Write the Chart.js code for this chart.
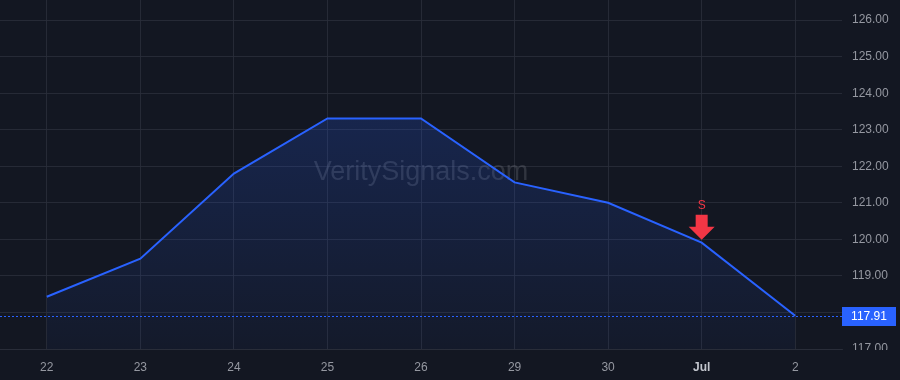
<!DOCTYPE html>
<html><head><meta charset="utf-8">
<script src="https://cdn.jsdelivr.net/npm/chart.js@4/dist/chart.umd.min.js"></script>
<style>html,body{margin:0;padding:0;background:#131722;}#wrap{width:900px;height:380px;}</style>
</head><body><div id="wrap"><canvas id="c" width="900" height="380"></canvas></div>
<script>
const categories = ['22','23','24','25','26','29','30','Jul','2'];
const closes = [118.43, 119.47, 121.80, 123.31, 123.31, 121.56, 121.00, 119.91, 117.91];
const yTicks = [117,118,119,120,121,122,123,124,125,126];
const signals = [{index:7, label:'S'}];
const watermark = 'VeritySignals.com';

const BG = '#131722';
const GRID = 'rgba(42,46,57,0.85)';
const BLUE = '#2962ff';
const RED = '#f23645';

const overlay = {
  id:'overlay',
  beforeDatasetsDraw(chart){
    const {ctx, chartArea:a} = chart;
    ctx.save();
    ctx.font = '27px "Liberation Sans", Arial, sans-serif';
    ctx.fillStyle = 'rgba(120,123,134,0.30)';
    ctx.textAlign = 'center'; ctx.textBaseline = 'middle';
    ctx.fillText(watermark, (a.left + a.right)/2, 173);
    ctx.restore();
  },
  afterDatasetsDraw(chart){
    const {ctx, chartArea:a, scales:{x,y}} = chart;
    const last = closes[closes.length-1];
    const py = Math.round(y.getPixelForValue(last)) + 0.5;
    ctx.save();
    ctx.strokeStyle = BLUE; ctx.lineWidth = 1; ctx.setLineDash([2,2]);
    ctx.beginPath(); ctx.moveTo(0, py); ctx.lineTo(a.right, py); ctx.stroke();
    ctx.setLineDash([]);
    signals.forEach(s => {
      const px = x.getPixelForValue(s.index);
      const vy = y.getPixelForValue(closes[s.index]);
      const tip = vy - 3;
      ctx.fillStyle = RED;
      ctx.beginPath();
      ctx.moveTo(px - 6, tip - 25);
      ctx.lineTo(px + 6, tip - 25);
      ctx.lineTo(px + 6, tip - 13);
      ctx.lineTo(px + 13, tip - 13);
      ctx.lineTo(px, tip);
      ctx.lineTo(px - 13, tip - 13);
      ctx.lineTo(px - 6, tip - 13);
      ctx.closePath(); ctx.fill();
      ctx.font = '12px "Liberation Sans", Arial, sans-serif';
      ctx.textAlign = 'center'; ctx.textBaseline = 'middle';
      ctx.fillText(s.label, px, tip - 34);
    });
    ctx.restore();
  },
  afterDraw(chart){
    const {ctx, chartArea:a, scales:{y}} = chart;
    ctx.save();
    ctx.fillStyle = BG;
    ctx.fillRect(a.right, a.bottom + 1, chart.width - a.right, chart.height - a.bottom);
    const last = closes[closes.length-1];
    const py = y.getPixelForValue(last);
    ctx.fillStyle = BLUE;
    ctx.fillRect(a.right, Math.round(py) - 9, 54, 19);
    ctx.fillStyle = '#ffffff';
    ctx.font = '12px "Liberation Sans", Arial, sans-serif';
    ctx.textAlign = 'center'; ctx.textBaseline = 'middle';
    ctx.fillText(last.toFixed(2), a.right + 27, Math.round(py) + 0.5);
    ctx.restore();
  }
};

const bgPlugin = {
  id:'bg',
  beforeDraw(chart){
    const {ctx} = chart;
    ctx.save(); ctx.fillStyle = BG; ctx.fillRect(0,0,chart.width,chart.height); ctx.restore();
  }
};

new Chart(document.getElementById('c'), {
  type:'line',
  data:{
    labels: categories,
    datasets:[{
      data: closes,
      borderColor: BLUE,
      borderWidth: 2,
      pointRadius: 0,
      tension: 0,
      fill: 'start',
      backgroundColor(ctx){
        const ch = ctx.chart; const a = ch.chartArea;
        if(!a) return 'rgba(41,98,255,0.15)';
        const g = ch.ctx.createLinearGradient(0, a.top + 110, 0, a.bottom);
        g.addColorStop(0, 'rgba(41,98,255,0.20)');
        g.addColorStop(1, 'rgba(41,98,255,0.04)');
        return g;
      }
    }]
  },
  options:{
    responsive:false,
    animation:false,
    layout:{padding:0},
    plugins:{legend:{display:false}, tooltip:{enabled:false}},
    scales:{
      x:{
        type:'category',
        offset:true,
        grid:{color:GRID, offset:false, drawTicks:false},
        border:{color:GRID},
        ticks:{
          color(c){ return c.tick && c.tick.label === 'Jul' ? '#c3c6ce' : '#9598a1'; },
          font(c){ return {family:'"Liberation Sans", Arial, sans-serif', size:12, weight: (c.tick && c.tick.label==='Jul') ? 'bold':'normal'}; },
          padding:11, maxRotation:0, autoSkip:false
        },
        afterFit(s){ s.height = 31; s.paddingLeft = 0; s.paddingRight = 0; }
      },
      y:{
        position:'right',
        min:117, max:126.55,
        grid:{color:GRID, drawTicks:false},
        border:{display:false},
        afterBuildTicks(s){ s.ticks = yTicks.map(v => ({value:v})); },
        ticks:{
          color:'#9598a1',
          font:{family:'"Liberation Sans", Arial, sans-serif', size:12},
          padding:10,
          callback(v){ return Number(v).toFixed(2); }
        },
        afterFit(s){ s.width = 58; s.paddingTop = 0; s.paddingBottom = 0; }
      }
    }
  },
  plugins:[bgPlugin, overlay]
});
</script></body></html>
